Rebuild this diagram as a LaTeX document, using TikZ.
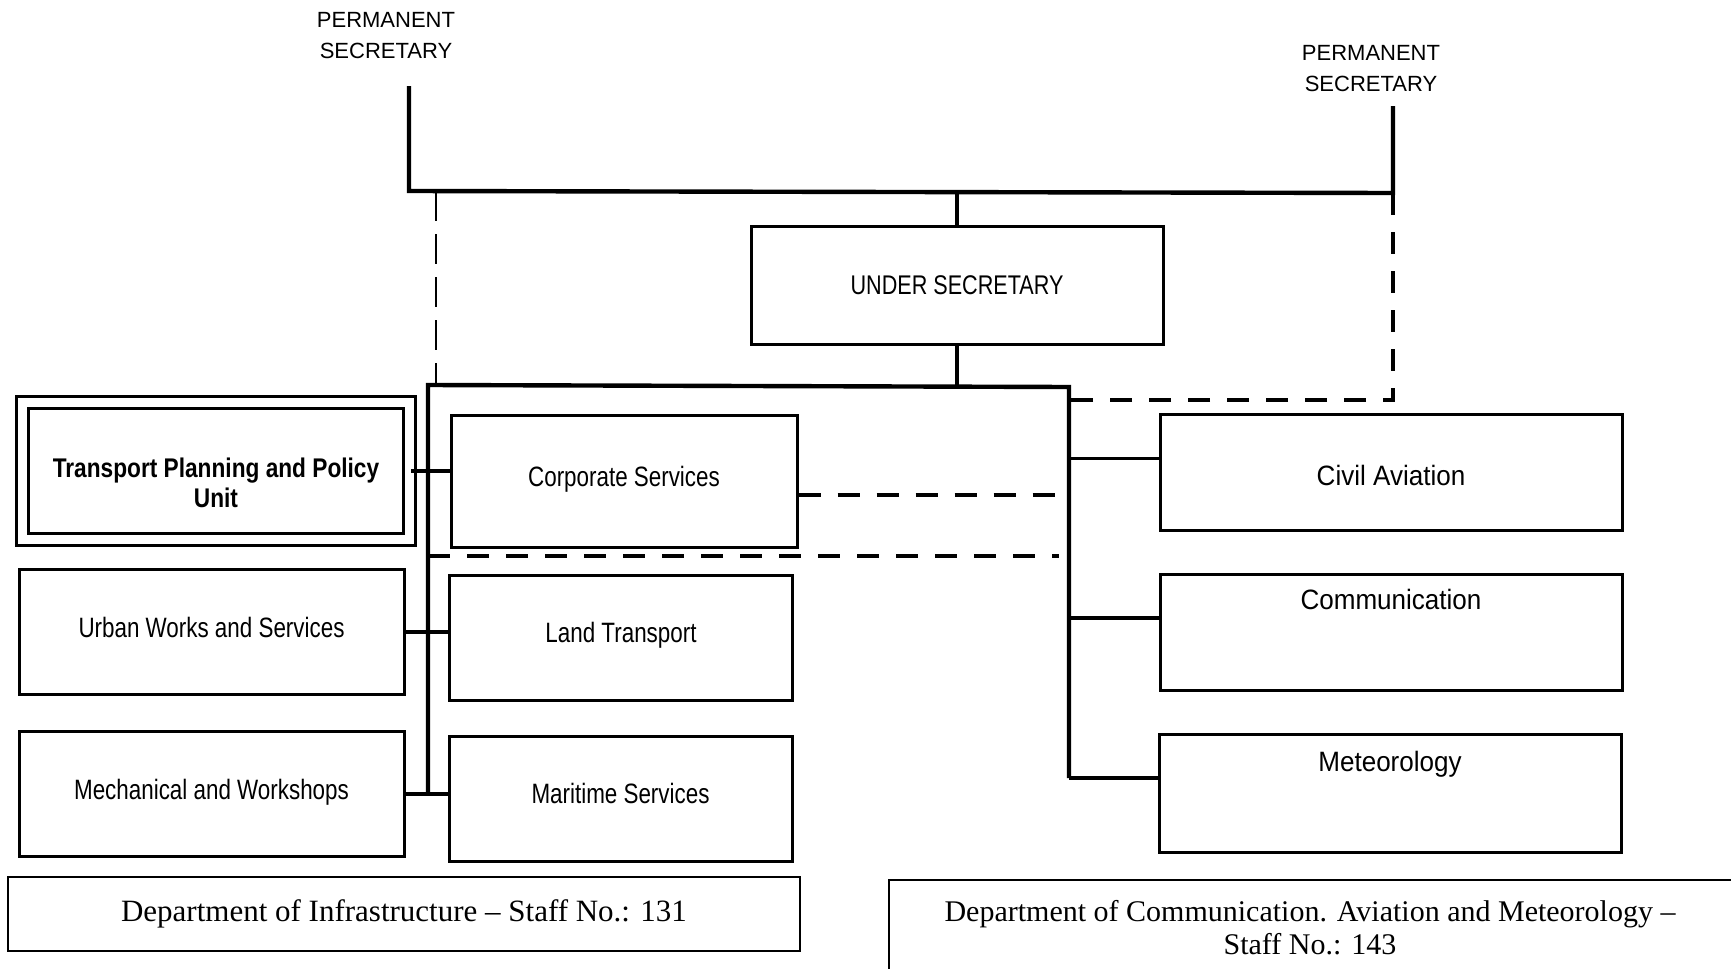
\documentclass[tikz,border=0pt]{standalone}
\usepackage{fontspec}
\setmainfont{Liberation Serif}
\setsansfont{Liberation Sans}
\newfontfamily\narrowsf[FakeStretch=0.8]{Liberation Sans}
\newfontfamily\unitsf[FakeStretch=0.84]{Liberation Sans}
\newfontfamily\widesf[FakeStretch=0.93]{Liberation Sans}
\usetikzlibrary{positioning}

\tikzset{
  box/.style={draw,line width=1.5pt,inner sep=2pt,align=center},
  lbox/.style={box,minimum width=192.5pt,minimum height=62.5pt,
    text height=10pt,text depth=5pt,
    font=\narrowsf\fontsize{14}{17}\selectfont},
  mbox/.style={box,minimum width=171.5pt,minimum height=62.5pt,
    text height=10pt,text depth=5pt,
    font=\narrowsf\fontsize{14}{17}\selectfont},
  rbox/.style={box,minimum width=231pt,minimum height=58pt,
    font=\widesf\fontsize{14}{17}\selectfont},
  toplbl/.style={anchor=north,inner sep=0pt,font=\widesf\fontsize{14}{17}\selectfont},
  pslbl/.style={align=center,font=\sffamily\fontsize{11}{15.5}\selectfont},
  deptbox/.style={draw,line width=1.1pt,align=center,
    font=\rmfamily\fontsize{15.5}{16.5}\selectfont},
  link/.style={line width=1.6pt},
  bus/.style={line width=2.2pt},
  dashlink/.style={line width=2.2pt,dash pattern=on 11pt off 8.5pt},
  thindash/.style={line width=0.9pt,dash pattern=on 15pt off 6.5pt}
}

\begin{document}
\begin{tikzpicture}[x=0.5pt,y=-0.5pt]
\useasboundingbox (0,0) rectangle (1731,969);

% permanent secretaries
\node[pslbl] (ps1) at (386,36) {PERMANENT\\SECRETARY};
\node[pslbl] (ps2) at (1371,69) {PERMANENT\\SECRETARY};
\coordinate (ps1 top) at (409,86);
\coordinate (ps1 foot) at (409,191);
\coordinate (ps2 top) at (1393,106);
\coordinate (ps2 foot) at (1393,193);

\node[box,minimum width=206pt,minimum height=59pt,
  font=\narrowsf\fontsize{13.5}{16}\selectfont] (under) at (957,285) {UNDER SECRETARY};

% Department of Infrastructure
\node[box,double,double distance=4.6pt,line width=1.4pt,
  minimum width=193.75pt,minimum height=68.25pt,
  font=\unitsf\bfseries\fontsize{13.5}{15}\selectfont] (tpu) at (216,471)
  {\rule{0pt}{22pt}Transport Planning and Policy\\Unit};
\node[lbox] (urban) at (211.5,632) {Urban Works and Services};
\node[lbox] (mech) at (211.5,794) {Mechanical and Workshops};
\node[mbox,minimum width=173pt,minimum height=66pt] (corp) at (624,481) {Corporate Services};
\node[mbox] (land) at (621,637.5) {Land Transport};
\node[mbox] (mari) at (620.5,798.5) {Maritime Services};

% Department of Communication, Aviation and Meteorology
\node[rbox,text height=13pt,text depth=0pt] (civil) at (1391,472.5) {Civil Aviation};
\node[rbox,label={[toplbl,yshift=-8pt]north:Communication}] (comm) at (1391,632) {};
\node[rbox,minimum height=59pt,label={[toplbl,yshift=-9pt]north:Meteorology}] (meteo) at (1390,793) {};

\node[deptbox,minimum width=396pt,minimum height=37pt] (infra) at (404,914)
  {Department of Infrastructure -- Staff No.: 131};
\node[align=center,font=\rmfamily\fontsize{15}{16.5}\selectfont] (dcam) at (1310,928)
  {Department of Communication. Aviation and Meteorology --\\Staff No.: 143};
\draw[line width=1pt] (889,969) |- (1731,880);

% lines
\coordinate (lbus top) at (428,385);
\coordinate (lbus end) at (428,794);
\coordinate (rbus top) at (1069,387);
\coordinate (rbus end) at (1069,778);
\coordinate (rdash) at (1397,400);
\coordinate (ldash) at (428,556);

\draw[bus] (ps1 top) -- (ps1 foot) -- (ps2 foot) -- (ps2 top);
\draw[link] (under.north) -- (under.north |- ps1 foot);
\draw[link] (under.south) -- (under.south |- lbus top);
\draw[bus] (lbus end) -- (lbus top) -- (rbus top) -- (rbus end);

\draw[link] (tpu.east) -- (tpu.east -| corp.west);
\draw[link] (urban.east) -- (urban.east -| land.west);
\draw[link] (mech.east) -- (mech.east -| mari.west);
\draw[link] ([yshift=7pt]civil.west) -- ([yshift=7pt]civil.west -| rbus top);
\draw[link] ([yshift=7pt]comm.west) -- ([yshift=7pt]comm.west -| rbus top);
\draw[link] ([yshift=7.5pt]meteo.west) -- (rbus end);

% dashed links
\draw[thindash] ([xshift=13.5pt]ps1 foot) -- ([xshift=13.5pt]ps1 foot |- lbus top);
\draw[dashlink] (ps2 foot) -- (ps2 foot |- rdash) -- (rdash -| rbus top);
\draw[dashlink,shorten >=6pt] ([yshift=-7pt]corp.east) -- ([yshift=-7pt]corp.east -| rbus top);
\draw[dashlink,shorten >=5pt] (ldash) -- (ldash -| rbus top);
\end{tikzpicture}
\end{document}
